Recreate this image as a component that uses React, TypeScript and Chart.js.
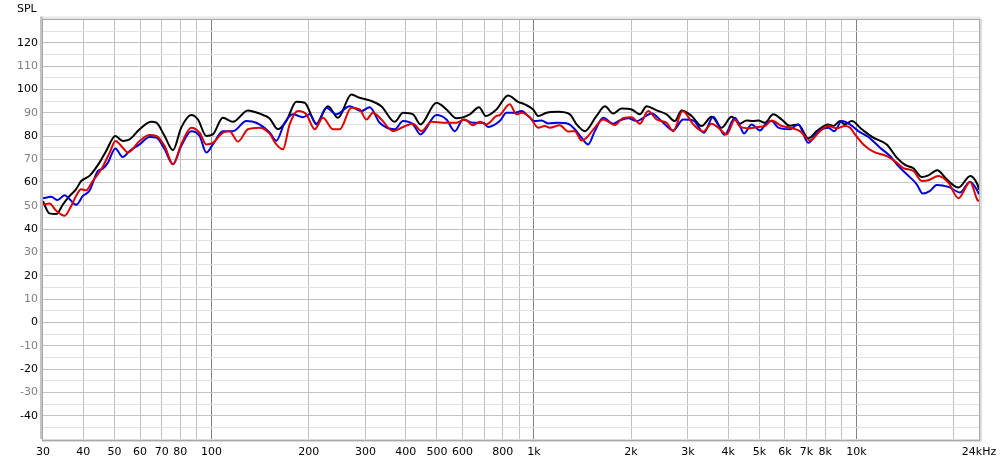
import React, { useEffect, useRef } from "react";
import { Chart, registerables } from "chart.js";

Chart.register(...registerables);

// Frequency (Hz) / SPL (dB) pairs
const blackFreq = [30, 31.4, 33.0, 34.6, 36.3, 38.0, 39.4, 41.8, 44.9, 47.1, 50.3, 53.0, 55.7, 59.8, 65.0, 67.4, 71.5, 75.9, 80.5, 86.5, 90.7, 96.3, 100.9, 108.4, 116.5, 129.6, 140.9, 151.4, 160.6, 170.5, 183.2, 194.4, 211.3, 229.6, 246.6, 271.4, 287.9, 309.3, 336.2, 369.8, 392.4, 421.5, 444.3, 498.2, 535.2, 574.9, 632.1, 675.4, 708.6, 764.7, 831.2, 892.6, 936.4, 993.7, 1030, 1094, 1188, 1292, 1355, 1438, 1563, 1659, 1760, 1869, 2007, 2130, 2235, 2400, 2578, 2735, 2870, 3083, 3311, 3555, 3819, 4102, 4353, 4566, 4786, 4960, 5203, 5521, 5863, 6222, 6602, 7090, 7531, 8181, 8479, 8895, 9218, 9669, 10390, 11280, 12420, 13340, 14150, 15020, 15950, 16720, 17800, 19070, 20720, 22560, 23720, 24000];
const blackSpl = [52, 46.8, 46.5, 50.7, 54.3, 57.2, 60.7, 62.9, 68.6, 73.6, 80, 77.9, 78.6, 82.9, 86.1, 85.7, 80, 73.9, 83.6, 89, 87.1, 80, 80.7, 87.8, 86.1, 91, 89.6, 87.5, 82.9, 86.4, 94.7, 94.3, 85.3, 92.8, 87.8, 97.8, 96.4, 95.3, 92.8, 86.1, 90, 89.3, 85, 94.3, 91.4, 87.6, 89.3, 92.4, 88.6, 91.4, 97.4, 94.7, 93.6, 91.4, 88.6, 90, 90.4, 89.3, 85, 82.1, 88.6, 92.8, 89.7, 91.8, 91.4, 89.3, 92.8, 91, 89.3, 86.4, 91, 88.6, 84.3, 88.3, 83.6, 88.3, 85.3, 86.7, 86.4, 86.7, 85.7, 89.3, 87.1, 84.4, 85, 79, 82.1, 85, 84.3, 86.4, 85, 86.4, 82.9, 79.3, 76.4, 70.7, 67.6, 66.2, 62.4, 63.1, 65.3, 61.4, 57.9, 62.9, 59.3, 57];

const redFreq = [30, 31.4, 33.0, 35.0, 36.7, 38.0, 39.4, 40.8, 42.8, 45.5, 48.3, 50.3, 53.0, 55.0, 59.8, 64.2, 67.4, 71.5, 75.9, 80.5, 86.5, 91.8, 96.3, 100.9, 108.4, 113.7, 120.7, 129.6, 140.9, 151.4, 158.8, 166.5, 174.6, 185.3, 196.7, 208.8, 221.5, 237.9, 249.6, 271.4, 287.9, 302.1, 316.7, 336.2, 365.3, 392.4, 421.5, 447.5, 480.7, 522.4, 574.9, 609.9, 647.1, 678.8, 712.2, 764.7, 783, 841, 882.5, 914.5, 970.5, 1030, 1080, 1119, 1203, 1276, 1338, 1404, 1455, 1544, 1639, 1782, 1890, 2007, 2130, 2260, 2400, 2578, 2702, 2891, 3118, 3349, 3555, 3773, 3958, 4200, 4353, 4676, 4960, 5203, 5458, 5863, 6222, 6683, 7178, 7709, 8181, 8689, 9218, 9552, 9899, 10510, 11280, 12420, 13340, 13980, 15020, 15950, 16720, 17960, 19290, 20720, 22520, 23720, 24000];
const redSpl = [50.7, 51, 47.9, 45.8, 50, 54.3, 57.2, 56.7, 60.7, 65.7, 72.9, 77.9, 75, 72.9, 77.9, 80.4, 80, 75.7, 67.9, 76.4, 83.6, 81.4, 76.4, 77.1, 81.4, 82.1, 77.6, 82.9, 83.6, 81, 76.4, 74.3, 85, 90.7, 89.3, 82.9, 87.8, 82.9, 82.9, 92.1, 91.4, 87.1, 90, 87.1, 82.1, 83.9, 85.3, 82.1, 86.1, 85.7, 85.7, 87.1, 84.6, 86.1, 85, 88.6, 89, 93.6, 89.3, 90, 88.1, 83.6, 84.3, 83.6, 84.6, 81.9, 82.1, 78.1, 79.3, 83.6, 87.1, 84.7, 87.8, 88.1, 85.3, 90.7, 87.1, 85.7, 82.1, 90.7, 85, 81.9, 85.3, 82.9, 80.7, 87.1, 84, 83.3, 83.9, 84.3, 86.7, 84.3, 83.6, 82.1, 78.1, 82.1, 84.3, 83.3, 84.3, 83.6, 80.7, 76.4, 73.3, 71.4, 68.6, 66.2, 65, 60.7, 61, 62.9, 60, 53.3, 60.3, 52.6, 52];

const blueFreq = [30, 31.8, 33.3, 35.0, 36.3, 38.0, 39.9, 41.8, 44.4, 46.0, 47.7, 50.3, 53.0, 55.7, 59.8, 64.2, 67.4, 71.5, 75.9, 80.5, 86.5, 91.8, 96.3, 100.9, 108.4, 116.5, 128.2, 137.6, 151.4, 158.8, 168.5, 178.8, 192.0, 201.5, 211.3, 227.0, 243.8, 268.1, 291.4, 309.3, 332.2, 369.8, 392.4, 421.5, 444.3, 498.2, 535.2, 567.9, 602.6, 647.1, 695, 720.3, 783, 821.6, 871.8, 914.5, 958.7, 1006, 1055, 1106, 1188, 1276, 1338, 1404, 1472, 1544, 1639, 1760, 1846, 1959, 2080, 2316, 2516, 2702, 2903, 3118, 3365, 3596, 3900, 4200, 4353, 4479, 4732, 5020, 5267, 5458, 5723, 6222, 6602, 7090, 7617, 8181, 8540, 9004, 9552, 10140, 10890, 11840, 12720, 13490, 14330, 15390, 16060, 16920, 17750, 19290, 20970, 22520, 23720, 24000];
const blueSpl = [53.3, 53.9, 52.5, 54.6, 52.9, 50.5, 54.3, 56.5, 65, 66, 68.6, 74.7, 71, 73.6, 76.4, 79.6, 79.3, 74.3, 67.9, 75.7, 82.1, 80, 72.9, 76.4, 82.1, 82.1, 86.4, 85.7, 81.5, 78, 85.7, 89.3, 88.1, 89.3, 85, 92.1, 89.3, 92.8, 90.7, 92.4, 85.7, 82.9, 86.4, 85, 80.7, 89, 87.1, 82.1, 87.1, 85.7, 85.7, 83.9, 86.4, 90, 90, 90.7, 88.6, 86.4, 86.7, 85.4, 85.7, 85.3, 82.9, 79.3, 76.4, 82.1, 87.8, 85.3, 86.7, 87.6, 86.4, 89.7, 85.7, 82.4, 87.1, 86.7, 81.4, 88.3, 80.5, 87.8, 84.3, 81.1, 85, 82.4, 85.7, 86.4, 83.6, 82.9, 85, 77.1, 82.1, 83.6, 82.1, 86.4, 85, 82.1, 79.6, 75, 71.4, 67.1, 63.6, 59.3, 55.3, 56.5, 59, 58.2, 55.8, 60.4, 56.5, 55];

const xTickValues = [30, 40, 50, 60, 70, 80, 90, 100, 200, 300, 400, 500, 600, 700, 800, 900, 1000, 2000, 3000, 4000, 5000, 6000, 7000, 8000, 9000, 10000, 20000, 24000];
const xTickLabels = ["30", "40", "50", "60", "70", "80", "", "100", "200", "300", "400", "500", "600", "", "800", "", "1k", "2k", "3k", "4k", "5k", "6k", "7k", "8k", "", "10k", "", "24kHz"];
const decadeLines = [100, 1000, 10000];

const Y_MIN = -50;
const Y_MAX = 130;

const pairs = (xs: number[], ys: number[]) => xs.map((x, i) => ({ x, y: ys[i] }));

const framePlugin = {
  id: "frame",
  beforeDatasetsDraw(chart: any) {
    const { ctx, chartArea: a } = chart;
    ctx.save();
    ctx.fillStyle = "#dcdcdc";
    ctx.fillRect(a.right, a.top - 1, 3, a.bottom - a.top + 4);
    ctx.fillRect(a.left - 1, a.bottom, a.right - a.left + 4, 3);
    ctx.fillStyle = "#e6e6e6";
    ctx.fillRect(a.left - 1, a.top - 3, a.right - a.left + 2, 3);
    ctx.fillStyle = "#c4c4c4";
    ctx.fillRect(a.left - 3, a.top - 3, 3, a.bottom - a.top + 3);
    ctx.strokeStyle = "#a8a8a8";
    ctx.lineWidth = 1;
    ctx.strokeRect(Math.round(a.left) - 0.5, Math.round(a.top) - 0.5, Math.round(a.right - a.left) + 1, Math.round(a.bottom - a.top) + 1);
    ctx.restore();
  },
  afterDraw(chart: any) {
    const { ctx } = chart;
    ctx.save();
    ctx.font = "11px 'DejaVu Sans'";
    ctx.fillStyle = "#000";
    ctx.textBaseline = "middle";
    ctx.textAlign = "left";
    ctx.fillText("SPL", 17, 9);
    ctx.restore();
  },
};

export default function App() {
  const ref = useRef<HTMLCanvasElement | null>(null);
  useEffect(() => {
    if (!ref.current) return;
    const chart = new Chart(ref.current, {
      type: "line",
      data: {
        datasets: [
          { label: "red", data: pairs(redFreq, redSpl), borderColor: "#dd0000" },
          { label: "blue", data: pairs(blueFreq, blueSpl), borderColor: "#0000dd" },
          { label: "black", data: pairs(blackFreq, blackSpl), borderColor: "#000000" },
        ].map((d) => ({
          ...d,
          borderWidth: 2,
          pointRadius: 0,
          fill: false,
          cubicInterpolationMode: "monotone" as const,
        })),
      },
      options: {
        animation: false,
        responsive: false,
        devicePixelRatio: 1,
        events: [],
        layout: { padding: { top: 19.5, right: 21, left: 0, bottom: 0 } },
        plugins: { legend: { display: false }, tooltip: { enabled: false } },
        scales: {
          x: {
            type: "logarithmic",
            min: 30,
            max: 24000,
            afterBuildTicks: (s: any) => {
              s.ticks = xTickValues.map((v) => ({ value: v }));
            },
            afterFit: (s: any) => {
              s.height = 24;
              s.paddingLeft = 0;
              s.paddingRight = 0;
            },
            ticks: {
              autoSkip: false,
              maxRotation: 0,
              padding: 7,
              color: "#000",
              font: { family: "'DejaVu Sans'", size: 11 },
              callback: (_v: any, i: number) => xTickLabels[i],
            },
            grid: {
              drawTicks: false,
              color: (c: any) => {
                const v = c.tick?.value;
                if (v === 30 || v === 24000) return "rgba(0,0,0,0)";
                return decadeLines.includes(v) ? "#808080" : "#c0c0c0";
              },
            },
            border: { display: false },
          },
          y: {
            type: "linear",
            min: Y_MIN,
            max: Y_MAX,
            afterBuildTicks: (s: any) => {
              const t = [];
              for (let v = Y_MIN; v <= Y_MAX; v += 5) t.push({ value: v });
              s.ticks = t;
            },
            afterFit: (s: any) => {
              s.width = 43;
              s.paddingTop = 0;
              s.paddingBottom = 0;
            },
            ticks: {
              autoSkip: false,
              padding: 5,
              font: { family: "'DejaVu Sans'", size: 11 },
              color: (c: any) => (c.tick.value % 20 === 0 ? "#000000" : "#808080"),
              callback: (v: any) => {
                const n = Number(v);
                return n % 10 === 0 && n > Y_MIN && n < Y_MAX ? String(n) : "";
              },
            },
            grid: {
              drawTicks: false,
              color: (c: any) => {
                const v = c.tick?.value;
                if (v === Y_MIN || v === Y_MAX) return "rgba(0,0,0,0)";
                return v % 10 === 0 ? "#c4c4c4" : "#e2e2e2";
              },
            },
            border: { display: false },
          },
        },
      },
      plugins: [framePlugin],
    });
    return () => chart.destroy();
  }, []);
  return (
    <div style={{ position: "fixed", left: 0, top: 0, width: 1000, height: 463, background: "#fff" }}>
      <canvas ref={ref} width={1000} height={463} style={{ display: "block" }} />
    </div>
  );
}
